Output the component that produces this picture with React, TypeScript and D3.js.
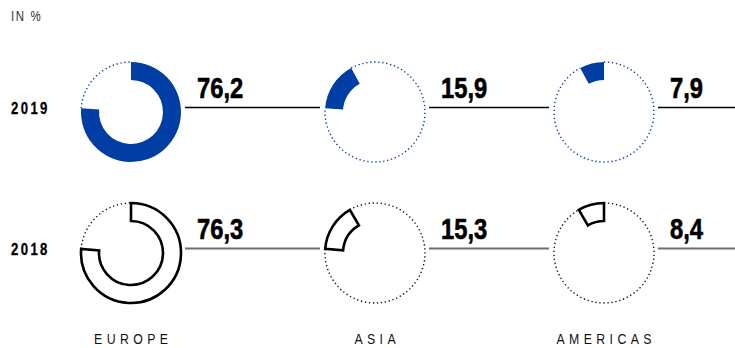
import React from "react";
import * as d3 from "d3";

const categories = ["EUROPE", "ASIA", "AMERICAS"];
const years = ["2019", "2018"];
const values2019 = [76.2, 15.9, 7.9];
const values2018 = [76.3, 15.3, 8.4];
const valueLabels2019 = ["76,2", "15,9", "7,9"];
const valueLabels2018 = ["76,3", "15,3", "8,4"];

const W = 735;
const H = 348;
const FONT = "'Liberation Sans', Arial, sans-serif";
const NARROW = 0.82;
const BLUE = "#003da5";

const xScale = d3.scaleOrdinal<string, number>().domain(categories).range([131, 375, 604]);
const yScale = d3.scaleOrdinal<string, number>().domain(years).range([112, 253]);

const OUTER = 50;
const INNER = 32;

function NText(props: {
  x: number;
  y: number;
  size: number;
  weight?: string;
  fill: string;
  spacing?: number;
  anchor?: string;
  heavy?: number;
  children: React.ReactNode;
}) {
  return (
    <text
      transform={`translate(${props.x},${props.y}) scale(${NARROW},1)`}
      fontSize={props.size}
      fontWeight={props.weight || "normal"}
      fill={props.fill}
      stroke={props.heavy ? props.fill : "none"}
      strokeWidth={props.heavy || 0}
      letterSpacing={(props.spacing || 0) / NARROW}
      textAnchor={props.anchor || "start"}
    >
      {props.children}
    </text>
  );
}

export default function App() {
  const rows = [
    { year: "2019", values: values2019, labels: valueLabels2019, filled: true },
    { year: "2018", values: values2018, labels: valueLabels2018, filled: false },
  ];
  const arcGen = d3.arc<{ s: number; e: number }>()
    .innerRadius(INNER)
    .outerRadius(OUTER)
    .startAngle((d) => d.s)
    .endAngle((d) => d.e);
  const angle = d3.scaleLinear().domain([0, 100]).range([0, 2 * Math.PI]);

  const remainder = (s: number, e: number) => {
    const a0 = e - Math.PI / 2;
    const a1 = s + 2 * Math.PI - Math.PI / 2;
    const p = d3.path();
    p.moveTo(OUTER * Math.cos(a0), OUTER * Math.sin(a0));
    p.arc(0, 0, OUTER, a0, a1);
    return p.toString();
  };

  return (
    <svg
      width={W}
      height={H}
      style={{ position: "absolute", left: 0, top: 0, display: "block", background: "#fff" }}
      fontFamily={FONT}
    >
      <NText x={11} y={20.7} size={14} fill="#333" spacing={1.6}>IN %</NText>
      {rows.map((row) => {
        const cy = yScale(row.year);
        const cums = d3.cumsum(row.values);
        const stroke = row.filled ? BLUE : "#111";
        return (
          <g key={row.year}>
            <NText x={11} y={cy + 1.5} size={16} weight="bold" fill="#000" spacing={2.4} heavy={0.3}>
              {row.year}
            </NText>
            {categories.map((cat, i) => {
              const cx = xScale(cat);
              const start = i === 0 ? 0 : cums[i - 1];
              const end = cums[i];
              const nextX = i < categories.length - 1 ? xScale(categories[i + 1]) - OUTER - 5 : W;
              const s = angle(start);
              const e = angle(end);
              const path = arcGen({ s, e }) || "";
              return (
                <g key={cat}>
                  <path
                    d={remainder(s, e)}
                    transform={`translate(${cx},${cy})`}
                    fill="none"
                    stroke={stroke}
                    strokeWidth={1.4}
                    strokeDasharray="1.3 2.7"
                  />
                  <path
                    d={path}
                    transform={`translate(${cx},${cy})`}
                    fill={row.filled ? BLUE : "#fff"}
                    stroke={row.filled ? "none" : "#000"}
                    strokeWidth={row.filled ? 0 : 2.6}
                    strokeLinejoin="miter"
                  />
                  <line
                    x1={cx + OUTER + 4}
                    x2={nextX}
                    y1={cy - 4.5}
                    y2={cy - 4.5}
                    stroke={row.filled ? "#000" : "#6f6f6f"}
                    strokeWidth={row.filled ? 1.4 : 2}
                  />
                  <NText x={cx + 66} y={cy - 14.5} size={29} weight="bold" fill="#000" heavy={0.6}>
                    {row.labels[i]}
                  </NText>
                </g>
              );
            })}
          </g>
        );
      })}
      {categories.map((cat) => (
        <NText key={cat} x={xScale(cat) + 2.2} y={344.3} size={15} fill="#111" spacing={4.4} anchor="middle">
          {cat}
        </NText>
      ))}
    </svg>
  );
}
